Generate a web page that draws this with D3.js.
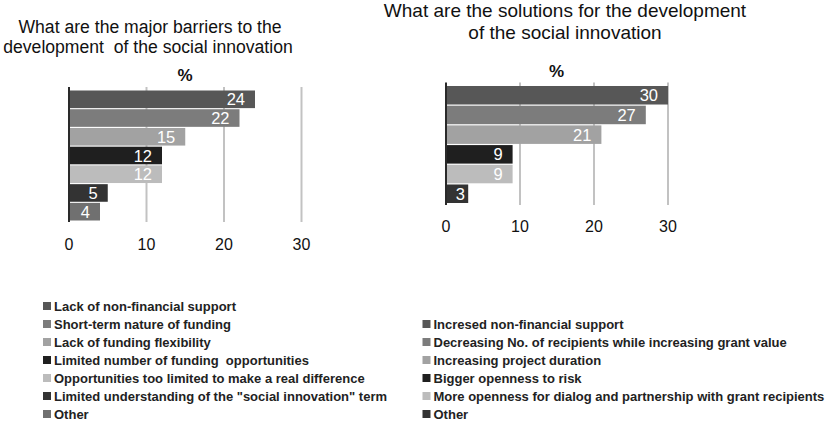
<!DOCTYPE html>
<html>
<head>
<meta charset="utf-8">
<script src="https://cdn.jsdelivr.net/npm/d3@7/dist/d3.min.js"></script>
<style>
  body { margin: 0; background: #fff; }
  text { font-family: "Liberation Sans", Arial, sans-serif; white-space: pre; }
</style>
</head>
<body>
<svg id="chart" width="839" height="422"></svg>
<script>
// data
const barrierTitle = ["What are the major barriers to the", "development  of the social innovation"];
const barrierLabels = [
  "Lack of non-financial support",
  "Short-term nature of funding",
  "Lack of funding flexibility",
  "Limited number of funding  opportunities",
  "Opportunities too limited to make a real difference",
  "Limited understanding of the \"social innovation\" term",
  "Other"
];
const barrierValues = [24, 22, 15, 12, 12, 5, 4];

const solutionTitle = ["What are the solutions for the development", "of the social innovation"];
const solutionLabels = [
  "Incresed non-financial support",
  "Decreasing No. of recipients while increasing grant value",
  "Increasing project duration",
  "Bigger openness to risk",
  "More openness for dialog and partnership with grant recipients",
  "Other"
];
const solutionValues = [30, 27, 21, 9, 9, 3];

const tickValues = [0, 10, 20, 30];
const axisLabel = "%";

// greys used by the bars, in order
const colors = ["#575757", "#7c7c7c", "#a2a2a2", "#1f1f1f", "#bcbcbc", "#333333", "#707070"];

const svg = d3.select("#chart");

/**
 * Draw one horizontal bar panel with its title and legend.
 */
function barPanel(svg, o) {
  const g = svg.append("g");
  const x = d3.scaleLinear().domain([0, 30]).range([o.x0, o.x1]);
  const y = d3.scaleBand()
    .domain(o.labels)
    .range([o.barTop, o.barBottom])
    .paddingInner(0.06);

  // title
  o.title.forEach((line, i) => {
    g.append("text")
      .attr("x", o.titleX[i])
      .attr("y", o.titleY + i * o.titleGap)
      .attr("text-anchor", "middle")
      .attr("font-size", o.titleSize)
      .attr("fill", "#111")
      .text(line);
  });

  // "%" label
  g.append("text")
    .attr("x", o.pctX)
    .attr("y", o.pctY)
    .attr("text-anchor", "middle")
    .attr("font-size", 17)
    .attr("font-weight", "bold")
    .attr("fill", "#111")
    .text(axisLabel);

  // vertical grid lines
  g.selectAll(".grid")
    .data(tickValues.slice(1))
    .join("line")
    .attr("x1", x).attr("x2", x)
    .attr("y1", o.gridTop).attr("y2", o.gridBottom)
    .attr("stroke", "#c2c2c2")
    .attr("stroke-width", 2);

  // bars
  const data = o.labels.map((l, i) => ({ label: l, value: o.values[i], color: colors[i] }));
  g.selectAll(".bar")
    .data(data)
    .join("rect")
    .attr("x", x(0))
    .attr("y", (d) => y(d.label))
    .attr("width", (d) => x(d.value) - x(0))
    .attr("height", y.bandwidth())
    .attr("fill", (d) => d.color);

  // value labels inside the bar end
  g.selectAll(".val")
    .data(data)
    .join("text")
    .attr("x", (d) => Math.max(x(d.value) - 10, x(0) + 19))
    .attr("y", (d) => y(d.label) + y.bandwidth() / 2 + 6)
    .attr("text-anchor", "end")
    .attr("font-size", 16.5)
    .attr("fill", "#fff")
    .text((d) => d.value);

  // axis line at zero
  g.append("line")
    .attr("x1", x(0)).attr("x2", x(0))
    .attr("y1", o.gridTop).attr("y2", o.gridBottom)
    .attr("stroke", "#2a2a2a")
    .attr("stroke-width", 2);

  // tick labels
  g.selectAll(".tick")
    .data(tickValues)
    .join("text")
    .attr("x", x)
    .attr("y", o.tickY)
    .attr("text-anchor", "middle")
    .attr("font-size", 16)
    .attr("fill", "#111")
    .text((d) => d);

  // legend
  const leg = g.selectAll(".leg")
    .data(data)
    .join("g")
    .attr("transform", (d, i) => `translate(${o.legX},${o.legY + i * 18})`);
  leg.append("rect")
    .attr("x", 0).attr("y", -4)
    .attr("width", 8).attr("height", 8)
    .attr("fill", (d) => d.color);
  leg.append("text")
    .attr("x", 11)
    .attr("y", 4.5)
    .attr("font-size", 13)
    .attr("font-weight", "bold")
    .attr("fill", "#222")
    .text((d) => d.label);
}

barPanel(svg, {
  title: barrierTitle, titleX: [150, 148], titleY: 33, titleGap: 20, titleSize: 17.6,
  labels: barrierLabels, values: barrierValues,
  x0: 69, x1: 301.5, barTop: 90.5, barBottom: 220.5,
  gridTop: 87, gridBottom: 222,
  pctX: 185, pctY: 81, tickY: 250,
  legX: 43, legY: 306
});

barPanel(svg, {
  title: solutionTitle, titleX: [565, 565], titleY: 17, titleGap: 22, titleSize: 19,
  labels: solutionLabels, values: solutionValues,
  x0: 446, x1: 668, barTop: 86, barBottom: 203,
  gridTop: 82.5, gridBottom: 205,
  pctX: 556.5, pctY: 77, tickY: 231.5,
  legX: 422.5, legY: 324
});
</script>
</body>
</html>
